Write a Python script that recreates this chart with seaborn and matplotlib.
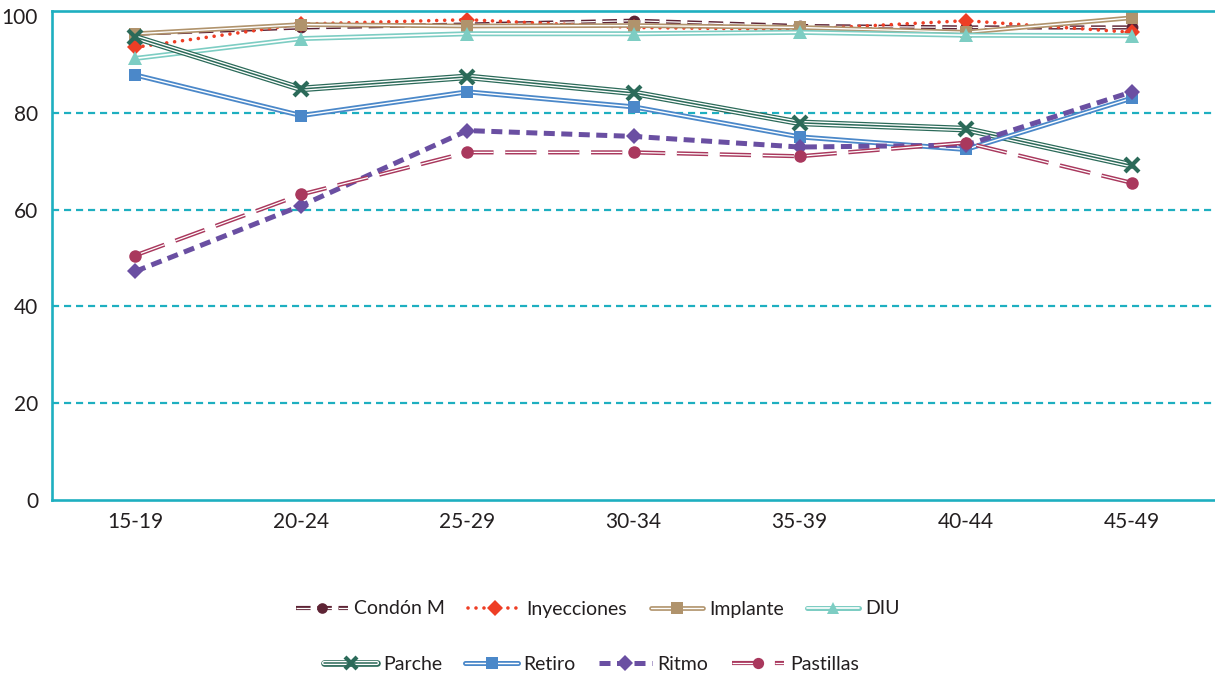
import numpy as np
import pandas as pd
import matplotlib
matplotlib.use("Agg")
import matplotlib.pyplot as plt
import matplotlib.patheffects as pe
from matplotlib.lines import Line2D
from matplotlib.legend_handler import HandlerTuple
import seaborn as sns

#---- Data ----#
edades = ["15-19", "20-24", "25-29", "30-34", "35-39", "40-44", "45-49"]

condon_m = [96.3, 97.6, 98.2, 99.0, 97.9, 97.6, 97.6]
inyecciones = [93.5, 98.3, 99.2, 97.6, 97.2, 99.0, 96.6]
implante = [96.3, 98.2, 97.9, 98.0, 97.6, 96.6, 99.6]
diu = [91.2, 95.3, 96.3, 96.3, 96.6, 96.0, 95.9]
parche = [95.6, 84.9, 87.4, 84.1, 77.9, 76.6, 69.1]
retiro = [87.8, 79.4, 84.3, 81.2, 75.0, 72.4, 83.0]
ritmo = [47.2, 60.8, 76.3, 75.1, 72.9, 73.3, 84.3]
pastillas = [50.5, 63.1, 71.8, 71.8, 71.0, 73.8, 65.5]

nombres = ["Condón M", "Inyecciones", "Implante", "DIU",
           "Parche", "Retiro", "Ritmo", "Pastillas"]
series = [condon_m, inyecciones, implante, diu, parche, retiro, ritmo, pastillas]

#---- Styles ----#
teal = "#1eafc0"
white_mid = lambda w: [pe.Normal(), pe.Stroke(linewidth=w, foreground="white")]
triple = lambda c: [pe.Normal(), pe.Stroke(linewidth=3.0, foreground="white"),
                    pe.Stroke(linewidth=1.1, foreground=c)]

estilos = {
    "Condón M": dict(color="#5e2435", lw=3.0, ls=(0, (3.5, 1.6)), pe=white_mid(0.9),
                     marker="o", ms=8.5, mew=0),
    "Inyecciones": dict(color="#ee3e25", lw=2.6, ls=(0, (0.01, 2.2)), pe=None,
                        marker="D", ms=8.5, mew=0),
    "Implante": dict(color="#b0936c", lw=3.4, ls="-", pe=white_mid(1.0),
                     marker="s", ms=9, mew=0),
    "DIU": dict(color="#7dcdc3", lw=3.6, ls="-", pe=white_mid(1.2),
                marker="^", ms=10, mew=0),
    "Parche": dict(color="#2b6a59", lw=4.8, ls="-", pe=triple("#2b6a59"),
                   marker="x", ms=10, mew=3),
    "Retiro": dict(color="#4b88c9", lw=3.6, ls="-", pe=white_mid(1.0),
                   marker="s", ms=9, mew=0),
    "Ritmo": dict(color="#6a4fa2", lw=3.6, ls=(0, (2.2, 1.3)), pe=None,
                  marker="D", ms=8.5, mew=0),
    "Pastillas": dict(color="#a9385d", lw=3.0, ls=(0, (7.5, 2.8)), pe=white_mid(0.9),
                      marker="o", ms=9, mew=0),
}

sns.set_style("white")
plt.rcParams["font.family"] = ["Lato", "DejaVu Sans"]

fig = plt.figure(figsize=(12.15, 6.79), dpi=100)
ax = fig.add_axes([52 / 1215, 1 - 500 / 679, 1 - 52 / 1215, 489 / 679])

#---- Render lines ----#
handles = []
for nombre, vals in zip(nombres, series):
    st = estilos[nombre]
    cap = "round" if nombre == "Inyecciones" else "butt"
    sns.lineplot(x=edades, y=vals, ax=ax, color=st["color"], lw=st["lw"],
                 linestyle=st["ls"], sort=False, legend=False)
    ln = ax.lines[-1]
    ln.set_dash_capstyle(cap)
    if st["pe"] is not None:
        ln.set_path_effects(st["pe"])
    sns.lineplot(x=edades, y=vals, ax=ax, color=st["color"], linestyle="none",
                 marker=st["marker"], markersize=st["ms"], markeredgewidth=st["mew"],
                 markeredgecolor=st["color"], sort=False, legend=False)

    h_line = Line2D([], [], color=st["color"], lw=st["lw"], linestyle=st["ls"],
                    dash_capstyle=cap)
    if st["pe"] is not None:
        h_line.set_path_effects(st["pe"])
    h_mark = Line2D([], [], color=st["color"], linestyle="none", marker=st["marker"],
                    markersize=st["ms"] * 0.9, markeredgewidth=st["mew"],
                    markeredgecolor=st["color"])
    handles.append((h_line, h_mark))

#---- Formatting ----#
ax.set_xlim(-0.5, 6.5)
ax.set_ylim(0, 101)
ax.set_yticks([0, 20, 40, 60, 80, 100])
ax.set_xlabel("")
ax.set_ylabel("")
ax.tick_params(axis="both", length=0, labelsize=15, colors="#231f20")
ax.tick_params(axis="y", pad=10)
ax.tick_params(axis="x", pad=9)

for side in ["left", "bottom", "top"]:
    ax.spines[side].set_color(teal)
    ax.spines[side].set_linewidth(1.9)
ax.spines["right"].set_visible(False)

ax.yaxis.grid(True, color=teal, linestyle=(0, (3.2, 2.2)), linewidth=1.6)
gl = ax.get_ygridlines()
gl[0].set_visible(False)
gl[-1].set_visible(False)
ax.set_axisbelow(True)

leg_kw = dict(ncol=4, frameon=False, fontsize=14, handlelength=2.7,
              handletextpad=0.3, columnspacing=1.2,
              handler_map={tuple: HandlerTuple(ndivide=1, pad=0)},
              labelcolor="#231f20")
leg1 = fig.legend(handles[:4], nombres[:4], loc="center",
                  bbox_to_anchor=(0.492, 1 - 609 / 679), **leg_kw)
leg2 = fig.legend(handles[4:], nombres[4:], loc="center",
                  bbox_to_anchor=(0.487, 1 - 664 / 679), **leg_kw)

plt.savefig("out.png", dpi=100)
